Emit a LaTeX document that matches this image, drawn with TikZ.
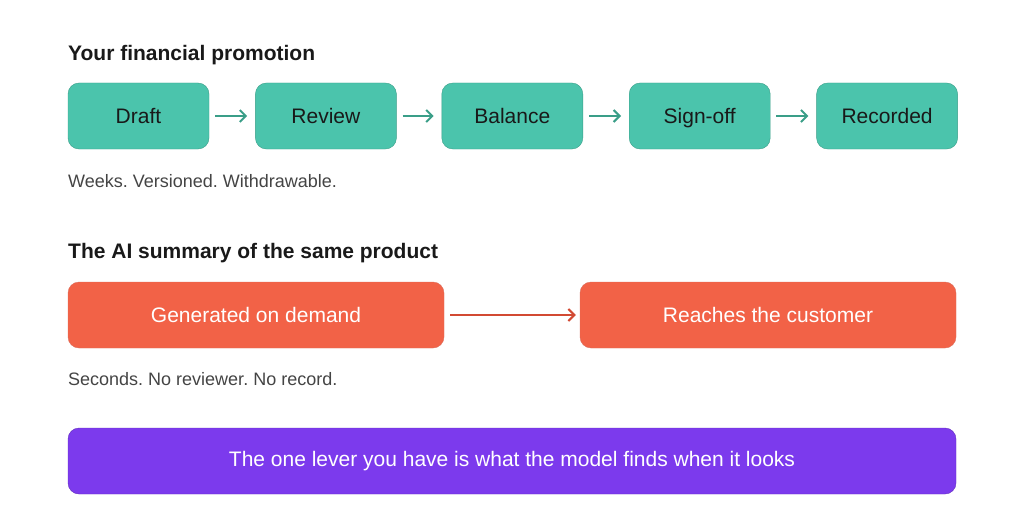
\documentclass[tikz,border=0pt]{standalone}
\usepackage{fontspec}
\setmainfont{Liberation Sans}
\usetikzlibrary{positioning, arrows.meta}
\definecolor{tealbox}{HTML}{4BC4AC}
\definecolor{tealline}{HTML}{3A9E88}
\definecolor{redbox}{HTML}{F26247}
\definecolor{redline}{HTML}{D24A33}
\definecolor{leverviolet}{HTML}{7C3AED}
\definecolor{caption}{HTML}{444444}
\frenchspacing
\tikzset{
  stage/.style={draw=tealline, fill=tealbox, rounded corners=11pt, minimum width=141pt, minimum height=66pt, text height=15pt, text depth=0pt, font=\fontsize{21}{25}\selectfont, text=black!90},
  wide/.style={draw=redline!80, fill=redbox, rounded corners=11pt, minimum width=376pt, minimum height=66pt, font=\fontsize{21}{25}\selectfont, text=white},
  head/.style={anchor=west, inner sep=0pt, font=\fontsize{21}{25}\selectfont\bfseries, text=black!90},
  note/.style={anchor=west, inner sep=0pt, font=\fontsize{18}{21}\selectfont, text=caption},
  flow/.style={-{Straight Barb[length=6pt,width=12pt]}, line width=2pt}
}
\begin{document}
\begin{tikzpicture}[x=1pt, y=-1pt]
    \useasboundingbox (0,0) rectangle (1024,524);
    \node[head] (title1) at (68,55) {Your financial promotion};
    \node[stage] (draft) at (138.5,116) {Draft};
    \node[stage, right=46pt of draft] (review) {Review};
    \node[stage, right=45pt of review] (balance) {Balance};
    \node[stage, right=46pt of balance] (signoff) {Sign-off};
    \node[stage, right=46pt of signoff] (recorded) {Recorded};
    \foreach \a/\b in {draft/review, review/balance, balance/signoff, signoff/recorded}
        \draw[flow, tealline] ([xshift=6pt]\a.east) -- ([xshift=-8pt]\b.west);
    \node[note] (note1) at (68,181) {Weeks. Versioned. Withdrawable.};
    % second row
    \node[head] (title2) at (68,253) {The AI summary of the same product};
    \node[wide] (generated) at (256,315) {Generated on demand};
    \node[wide] (reaches) at (768,315) {Reaches the customer};
    \draw[flow, redline] ([xshift=6pt]generated.east) -- ([xshift=-4pt]reaches.west);
    \node[note] (note2) at (68,379) {Seconds. No reviewer. No record.};
    \node[draw=leverviolet!80!black, fill=leverviolet, rounded corners=11pt, minimum width=888pt, minimum height=66pt, font=\fontsize{21}{25}\selectfont, text=white] (lever) at (512,461) {The one lever you have is what the model finds when it looks};
\end{tikzpicture}
\end{document}
